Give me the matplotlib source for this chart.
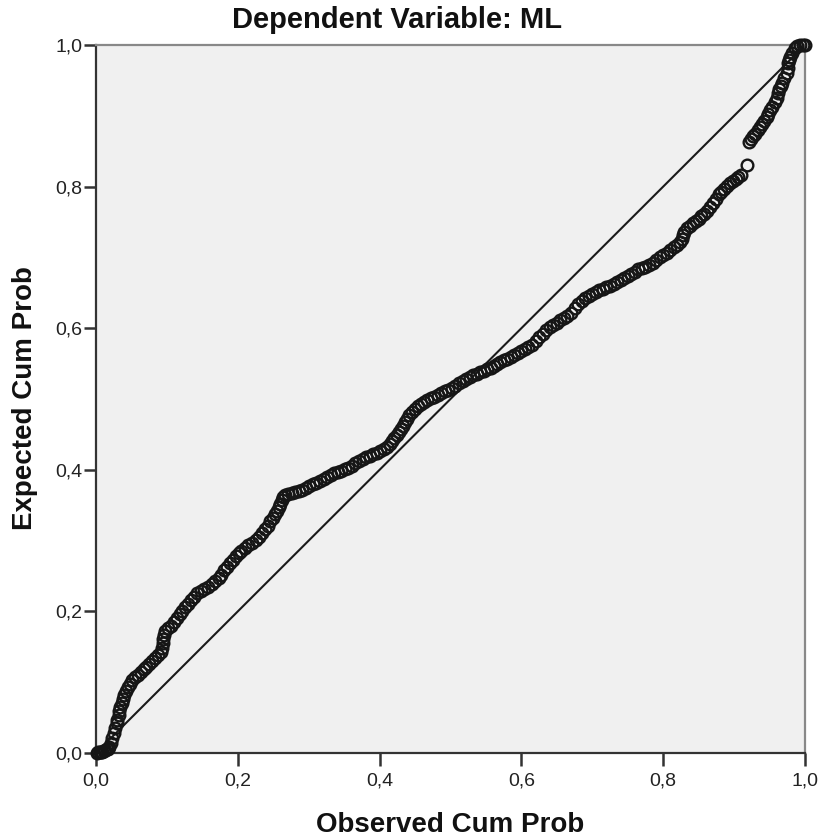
import matplotlib
matplotlib.use("Agg")
import matplotlib.pyplot as plt
from matplotlib.ticker import FuncFormatter

title = "Dependent Variable: ML"
x_label = "Observed Cum Prob"
y_label = "Expected Cum Prob"
ticks = [0.0, 0.2, 0.4, 0.6, 0.8, 1.0]
diag_x = [0.0, 1.0]
diag_y = [0.0, 1.0]

obs = [
    0.001, 0.003, 0.005, 0.007, 0.009, 0.011, 0.013, 0.015, 0.017, 0.019,
    0.021, 0.023, 0.025, 0.027, 0.029, 0.030, 0.032, 0.033, 0.034, 0.036, 0.038, 0.040, 0.042, 0.045, 0.048, 0.051,
    0.055, 0.059, 0.063, 0.067, 0.071, 0.075, 0.079, 0.083, 0.087, 0.091,
    0.093, 0.094, 0.095, 0.096, 0.098,
    0.102, 0.106, 0.110, 0.114, 0.118, 0.122, 0.126, 0.130, 0.134, 0.138, 0.143, 0.148, 0.153, 0.158, 0.163,
    0.168, 0.173, 0.177, 0.181, 0.185, 0.189, 0.193, 0.197, 0.201, 0.205, 0.210, 0.215, 0.220, 0.225, 0.230,
    0.234, 0.238, 0.242, 0.246, 0.249, 0.252, 0.255, 0.258,
    0.260, 0.262, 0.264, 0.267,
    0.271, 0.276, 0.281, 0.286, 0.291, 0.296, 0.301, 0.306, 0.311, 0.316, 0.321, 0.326, 0.331, 0.336, 0.341,
    0.346, 0.351, 0.356, 0.361, 0.366, 0.371, 0.376, 0.381, 0.386, 0.391, 0.396, 0.401, 0.406, 0.410,
    0.414, 0.418, 0.421, 0.424, 0.427, 0.430, 0.433, 0.436, 0.439, 0.442, 0.446, 0.450, 0.454, 0.458, 0.462,
    0.467, 0.472, 0.477, 0.482, 0.487, 0.492, 0.497, 0.502, 0.507, 0.512, 0.517, 0.522, 0.527, 0.532, 0.537,
    0.542, 0.547, 0.552, 0.557, 0.562, 0.566, 0.570,
    0.575, 0.580, 0.585, 0.590, 0.595, 0.600, 0.605, 0.610, 0.615, 0.620, 0.625, 0.630, 0.635, 0.640, 0.645,
    0.650, 0.655, 0.660, 0.665, 0.670, 0.675, 0.680, 0.685, 0.690, 0.695, 0.700, 0.705, 0.710,
    0.715, 0.720, 0.725, 0.730, 0.735, 0.740, 0.745, 0.750, 0.755, 0.760, 0.765, 0.770, 0.775, 0.780, 0.785,
    0.790, 0.795, 0.800, 0.805, 0.810, 0.815, 0.820, 0.824,
    0.826, 0.828, 0.830, 0.834, 0.838, 0.842, 0.846, 0.850, 0.854, 0.858, 0.862, 0.866, 0.870, 0.874, 0.878,
    0.882, 0.886, 0.890, 0.894, 0.898, 0.902, 0.906, 0.910,
    0.918,
    0.921, 0.924, 0.927, 0.930, 0.934, 0.937, 0.939, 0.942, 0.946, 0.948, 0.951, 0.954, 0.958, 0.960, 0.962,
    0.964, 0.966, 0.968, 0.971, 0.975, 0.976, 0.976, 0.978, 0.979, 0.982, 0.986, 0.989, 0.993, 0.997, 1.000,
]

expected = [
    0.000, 0.001, 0.001, 0.002, 0.002, 0.003, 0.004, 0.005, 0.006, 0.008,
    0.014, 0.021, 0.028, 0.035, 0.042, 0.047, 0.053, 0.059, 0.065, 0.070, 0.076, 0.082, 0.087, 0.093, 0.098, 0.103,
    0.107, 0.110, 0.114, 0.118, 0.122, 0.126, 0.130, 0.134, 0.138, 0.143,
    0.149, 0.155, 0.161, 0.167, 0.172,
    0.176, 0.180, 0.185, 0.191, 0.196, 0.201, 0.206, 0.211, 0.216, 0.221, 0.226, 0.229, 0.232, 0.235, 0.239,
    0.243, 0.247, 0.252, 0.258, 0.263, 0.268, 0.273, 0.278, 0.282, 0.286, 0.290, 0.294, 0.297, 0.301, 0.305,
    0.311, 0.316, 0.321, 0.327, 0.332, 0.337, 0.342, 0.347,
    0.352, 0.357, 0.361, 0.364,
    0.366, 0.367, 0.369, 0.370, 0.372, 0.374, 0.377, 0.380, 0.382, 0.384, 0.387, 0.390, 0.393, 0.395, 0.397,
    0.399, 0.401, 0.403, 0.406, 0.409, 0.412, 0.415, 0.418, 0.420, 0.422, 0.424, 0.427, 0.429, 0.432,
    0.436, 0.441, 0.445, 0.449, 0.453, 0.457, 0.462, 0.467, 0.472, 0.477, 0.482, 0.486, 0.490, 0.493, 0.496,
    0.499, 0.501, 0.503, 0.506, 0.509, 0.511, 0.513, 0.516, 0.519, 0.522, 0.525, 0.528, 0.531, 0.534, 0.536,
    0.538, 0.540, 0.542, 0.544, 0.547, 0.549, 0.552,
    0.555, 0.557, 0.560, 0.562, 0.565, 0.568, 0.570, 0.573, 0.576, 0.582, 0.587, 0.592, 0.597, 0.602, 0.605,
    0.608, 0.611, 0.614, 0.617, 0.622, 0.628, 0.634, 0.639, 0.643, 0.646, 0.648, 0.651, 0.654,
    0.656, 0.658, 0.660, 0.662, 0.665, 0.668, 0.671, 0.674, 0.677, 0.680, 0.683, 0.685, 0.687, 0.689, 0.692,
    0.696, 0.700, 0.703, 0.706, 0.710, 0.714, 0.718, 0.722,
    0.726, 0.731, 0.736, 0.741, 0.745, 0.748, 0.751, 0.754, 0.758, 0.762, 0.766, 0.771, 0.777, 0.783, 0.789,
    0.793, 0.797, 0.801, 0.805, 0.808, 0.811, 0.814, 0.817,
    0.831,
    0.863, 0.867, 0.871, 0.875, 0.880, 0.884, 0.888, 0.893, 0.898, 0.903, 0.908, 0.913, 0.919, 0.925, 0.932,
    0.938, 0.942, 0.946, 0.953, 0.960, 0.967, 0.975, 0.979, 0.983, 0.989, 0.996, 0.998, 1.000, 1.000, 1.000,
]

plt.rcParams['font.family'] = ['Liberation Sans', 'DejaVu Sans']

fig = plt.figure(figsize=(8.23, 8.40), dpi=100)
ax = fig.add_axes([96 / 823, 1 - 753 / 840, 709 / 823, 708 / 840])
ax.set_facecolor('#f0f0f0')

ax.plot(diag_x, diag_y, color='#1a1a1a', lw=1.5, zorder=2)
ax.plot(obs, expected, linestyle='none', marker='o', markersize=8.4,
        markerfacecolor='none', markeredgecolor='#161616', markeredgewidth=1.7,
        zorder=3, clip_on=False)

ax.set_xlim(0, 1)
ax.set_ylim(0, 1)
ax.set_xticks(ticks)
ax.set_yticks(ticks)
fmt = FuncFormatter(lambda v, p: f"{v:.1f}".replace('.', ','))
ax.xaxis.set_major_formatter(fmt)
ax.yaxis.set_major_formatter(fmt)
ax.tick_params(axis='both', direction='out', length=9, width=1.8, color='#333333',
               labelsize=14, labelcolor='#222222')
ax.tick_params(axis='x', pad=5)
ax.tick_params(axis='y', pad=1)

for side in ['left', 'bottom']:
    ax.spines[side].set_color('#333333')
    ax.spines[side].set_linewidth(1.6)
for side in ['top', 'right']:
    ax.spines[side].set_color('#888888')
    ax.spines[side].set_linewidth(1.6)

fig.text(397 / 823, 1 - 20 / 840, title, ha='center', va='center',
         fontsize=21, fontweight='bold', color='#111111')
fig.text(450 / 823, 1 - 825 / 840, x_label, ha='center', va='center',
         fontsize=20, fontweight='bold', color='#111111')
fig.text(25 / 823, 1 - 398 / 840, y_label, ha='center', va='center', rotation=90,
         fontsize=20, fontweight='bold', color='#111111')

fig.savefig('out.png', dpi=100)
